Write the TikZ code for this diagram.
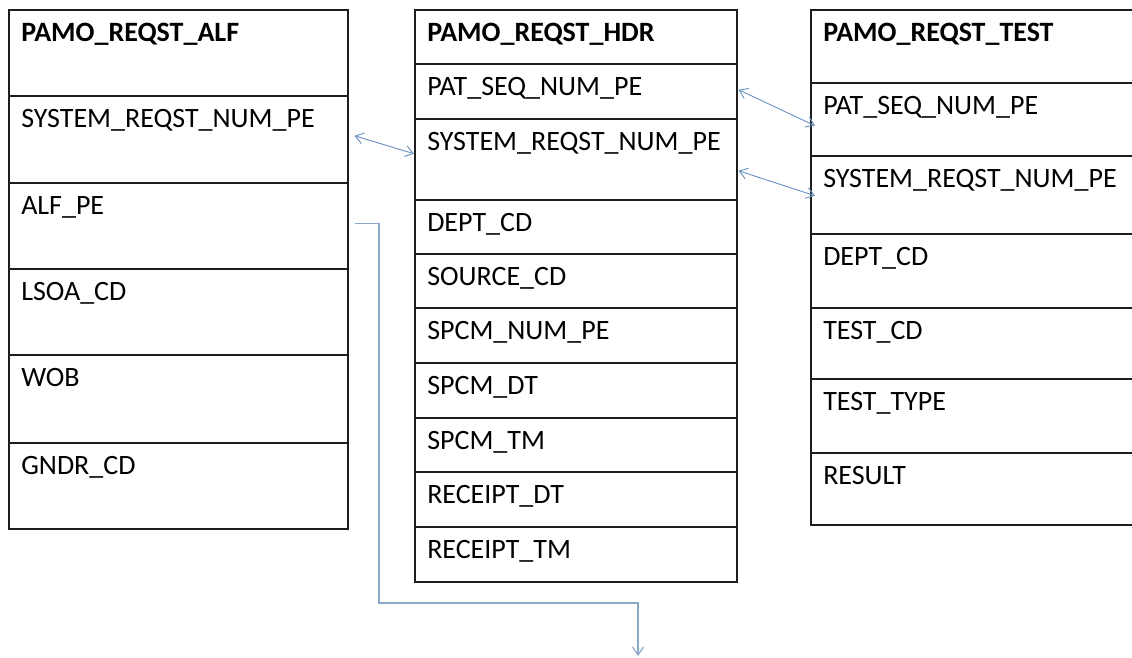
\documentclass[tikz,border=0pt]{standalone}
\usepackage{fontspec}
\setmainfont{Carlito}
\usetikzlibrary{arrows.meta,calc}
\definecolor{bordercol}{RGB}{30,30,30}
\definecolor{linkcol}{RGB}{105,145,192}
\definecolor{elbowcol}{RGB}{140,168,200}
\tikzset{
  cell/.style 2 args={draw=bordercol, line width=1.5pt, anchor=north west,
    inner xsep=12.5pt, inner ysep=0pt, text width=#1-25pt, align=left,
    text height=32pt, text depth=#2-32pt, font=\fontsize{28}{30}\selectfont},
  hdrcell/.style 2 args={cell={#1}{#2}, font=\fontsize{28}{30}\selectfont\bfseries},
  link/.style={draw=linkcol, line width=0.9pt, {Straight Barb[length=8pt,width=11pt]}-{Straight Barb[length=8pt,width=11pt]}},
  elbow/.style={draw=elbowcol, line width=1.1pt, -{Straight Barb[length=8pt,width=11pt]}}
}
\begin{document}
\begin{tikzpicture}[x=1pt,y=-1pt]
\path[use as bounding box, clip] (0,0) rectangle (1132,657);
\fill[white] (0,0) rectangle (1132,657);
% PAMO_REQST_ALF
\node[hdrcell={339pt}{86pt}] (alf0) at (8,9) {PAMO\_REQST\_ALF};
\node[cell={339pt}{87pt}] (alf1) at (8,95) {SYSTEM\_REQST\_NUM\_PE};
\node[cell={339pt}{86pt}] (alf2) at (8,182) {ALF\_PE};
\node[cell={339pt}{86pt}] (alf3) at (8,268) {LSOA\_CD};
\node[cell={339pt}{88pt}] (alf4) at (8,354) {WOB};
\node[cell={339pt}{86pt}] (alf5) at (8,442) {GNDR\_CD};
% PAMO_REQST_HDR
\node[hdrcell={322pt}{54pt}] (hdr0) at (414,9) {PAMO\_REQST\_HDR};
\node[cell={322pt}{55pt}] (hdr1) at (414,63) {PAT\_SEQ\_NUM\_PE};
\node[cell={322pt}{81pt}] (hdr2) at (414,118) {SYSTEM\_REQST\_NUM\_PE};
\node[cell={322pt}{54pt}] (hdr3) at (414,199) {DEPT\_CD};
\node[cell={322pt}{54pt}] (hdr4) at (414,253) {SOURCE\_CD};
\node[cell={322pt}{55pt}] (hdr5) at (414,307) {SPCM\_NUM\_PE};
\node[cell={322pt}{55pt}] (hdr6) at (414,362) {SPCM\_DT};
\node[cell={322pt}{54pt}] (hdr7) at (414,417) {SPCM\_TM};
\node[cell={322pt}{55pt}] (hdr8) at (414,471) {RECEIPT\_DT};
\node[cell={322pt}{55pt}] (hdr9) at (414,526) {RECEIPT\_TM};
% PAMO_REQST_TEST
\node[hdrcell={340pt}{73pt}] (tst0) at (810,9) {PAMO\_REQST\_TEST};
\node[cell={340pt}{73pt}] (tst1) at (810,82) {PAT\_SEQ\_NUM\_PE};
\node[cell={340pt}{78pt}] (tst2) at (810,155) {SYSTEM\_REQST\_NUM\_PE};
\node[cell={340pt}{74pt}] (tst3) at (810,233) {DEPT\_CD};
\node[cell={340pt}{71pt}] (tst4) at (810,307) {TEST\_CD};
\node[cell={340pt}{74pt}] (tst5) at (810,378) {TEST\_TYPE};
\node[cell={340pt}{72pt}] (tst6) at (810,452) {RESULT};
% connectors
\draw[link] ([xshift=6pt,yshift=3.5pt]alf1.east) -- ([yshift=5.5pt]hdr2.west);
\draw[link] ([xshift=1pt,yshift=1.5pt]hdr1.east) -- ([xshift=5pt,yshift=-6.5pt]tst1.west);
\draw[link] ([xshift=1pt,yshift=-11.5pt]hdr2.east) -- ([xshift=5pt,yshift=-1pt]tst2.west);
\coordinate (elbowend) at (638,656);
\draw[elbow] ([xshift=6pt,yshift=2pt]alf2.east) -| (379,603) -| (elbowend);
\end{tikzpicture}
\end{document}
